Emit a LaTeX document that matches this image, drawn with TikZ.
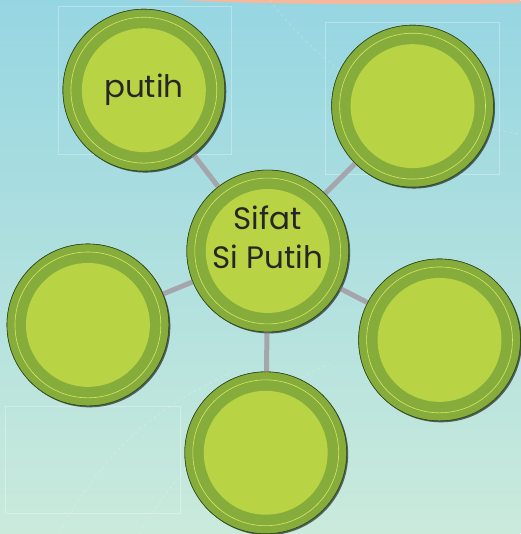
\documentclass[tikz,border=0pt]{standalone}
\usepackage{fontspec}
\setmainfont{Poppins}
\usepackage{tikz}
\usetikzlibrary{shadows, positioning, calc}
\definecolor{ringgreen}{RGB}{134, 173, 60}
\definecolor{leafgreen}{RGB}{184, 212, 68}
\definecolor{linegreen}{RGB}{214, 230, 100}
\definecolor{edgegreen}{RGB}{50, 75, 25}
\definecolor{skyblue}{RGB}{150, 214, 226}
\definecolor{palesea}{RGB}{202, 234, 220}
\definecolor{peach}{RGB}{246, 184, 156}
\definecolor{stickgray}{RGB}{165, 165, 172}

\begin{document}
\begin{tikzpicture}[
  x=1pt, y=1pt,
  bubble/.style={circle, minimum size=162pt, inner sep=0pt, fill=ringgreen, draw=edgegreen, line width=0.6pt,
    drop shadow={opacity=0.35, shadow xshift=1.5pt, shadow yshift=-1.5pt, fill=black}},
  stick/.style={draw=stickgray, line width=5pt},
  deco/.style={draw=white, opacity=0.3, line width=0.5pt},
  label/.style={font=\fontsize{31}{39}\selectfont, align=center, text=black!85}
]
  % background
  \shade[top color=skyblue, bottom color=palesea] (0,0) rectangle (521,534);
  \fill[peach] (185,534) -- (521,534) -- (521,531) .. controls (400,529) and (250,530) .. (185,534) -- cycle;
  \draw[deco, dashed] (270,534) .. controls (320,470) and (380,420) .. (521,400);
  \draw[deco, dashed] (60,0) .. controls (100,80) and (160,130) .. (230,160);
  \draw[deco, dashed] (140,0) .. controls (180,70) and (240,130) .. (330,170);
  \draw[deco] (58,528) rectangle (231,380);
  \draw[deco] (326,512) rectangle (500,360);
  \draw[deco] (5,128) rectangle (180,20);

  % circles
  \node[bubble] (sifat) at (268,283) {};
  \node[bubble] (putih) at (144,444) {};
  \node[bubble] (kanan) at (413,428) {};
  \node[bubble] (kiri) at (88,209) {};
  \node[bubble] (lain) at (440,194) {};
  \node[bubble] (bawah) at (266,81) {};

  % sticks, then the circles again on top
  \foreach \n in {putih, kanan, kiri, lain, bawah}{
    \draw[stick] (sifat) -- (\n);
  }
  \foreach \n in {sifat, putih, kanan, kiri, lain, bawah}{
    \node[bubble] at (\n.center) {};
    \fill[leafgreen] (\n.center) circle (62pt);
    \draw[linegreen, line width=0.6pt] (\n.center) circle (73pt);
  }

  \node[label] at (putih.center) {putih};
  \node[label] at ($(sifat.center)+(0,14)$) {Sifat\\Si Putih};
\end{tikzpicture}
\end{document}
